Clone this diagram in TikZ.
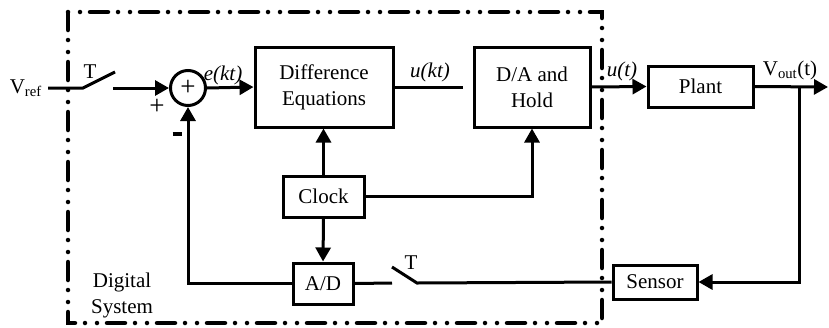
\documentclass[tikz,border=0pt]{standalone}
\usepackage{fontspec}
\setmainfont{Liberation Serif}
\usetikzlibrary{arrows.meta}
\begin{document}
\begin{tikzpicture}[x=1pt,y=-1pt,
  every node/.style={font=\fontsize{21}{26}\selectfont},
  blk/.style={draw,line width=3pt,inner sep=0pt,align=center},
  conn/.style={line width=3pt},
  arr/.style={conn,-{Triangle[length=14pt,width=15pt]}},
  lbl/.style={inner sep=0pt},
  sign/.style={inner sep=0pt,font=\fontsize{27}{27}\selectfont},
  boundary/.style={line width=4.5pt,line cap=round,dash pattern=on 18pt off 10pt on 0pt off 12pt on 0pt off 10pt}]
\useasboundingbox (0,0) rectangle (829,327);
% digital system boundary
\draw[boundary] (68,12) rectangle (602,323);
% blocks
\node[draw,circle,line width=3pt,minimum size=35pt,inner sep=0pt,font=\fontsize{27}{27}\selectfont] (sum) at (188,88) {+};
\node[blk,minimum width=138pt,minimum height=80pt] (diff) at (324,87) {Difference\\Equations};
\node[blk,minimum width=116pt,minimum height=80pt] (dah) at (532,87) {D/A and\\Hold};
\node[blk,minimum width=105pt,minimum height=41pt] (plant) at (700.5,86.5) {Plant};
\node[blk,minimum width=84pt,minimum height=34pt] (sensor) at (655,282) {Sensor};
\node[blk,minimum width=60pt,minimum height=41pt] (ad) at (323,283.5) {A/D};
\node[blk,minimum width=81pt,minimum height=41pt] (clock) at (323.5,196.5) {Clock};
% labels
\node[lbl,anchor=east] (vref) at (42,88) {V\textsubscript{ref}};
\node[lbl] (t1) at (90,72) {T};
\node[sign] (plus) at (157,107) {+};
\node[lbl] (minus) at (177,134) {\rule{9pt}{3.5pt}};
\node[lbl] (ekt) at (223,75) {\textit{e(kt)}};
\node[lbl] (ukt) at (430,72) {\textit{u(kt)}};
\node[lbl] (ut) at (622,71) {\textit{u(t)}};
\node[lbl] (vout) at (790,70) {V\textsubscript{out}(t)};
\node[lbl] (t2) at (411,263) {T};
\node[lbl,align=center] (dig) at (122,295) {Digital\\System};
% coordinates
\coordinate (s1a) at (83,88);
\coordinate (s1b) at (115,72);
\coordinate (s1c) at (113,88);
\coordinate (uend) at (463,87);
\coordinate (outend) at (828,87);
\coordinate (br) at (799,87);
\coordinate (s2a) at (417,283);
\coordinate (s2b) at (392,267);
\coordinate (s2c) at (392,283);
% connectors
\draw[conn] (vref.east) ++(6,0) -- (s1a) -- (s1b);
\draw[arr] (s1c) -- (sum.west);
\draw[arr] (sum.east) -- (diff.west);
\draw[conn] (diff.east) -- (uend);
\draw[arr] (dah.east) -- (plant.west);
\draw[arr] (plant.east) -- (outend);
\draw[arr] (br) |- (sensor.east);
\draw[conn] (sensor.west) -- (s2a) -- (s2b);
\draw[conn] (ad.east) -- (s2c);
\draw[arr] (ad.west) -| (sum.south);
\draw[arr] (clock.north) -- (clock.north |- diff.south);
\draw[arr] (clock.east) -| (dah.south);
\draw[arr] (clock.south) -- (ad.north);
\end{tikzpicture}
\end{document}
